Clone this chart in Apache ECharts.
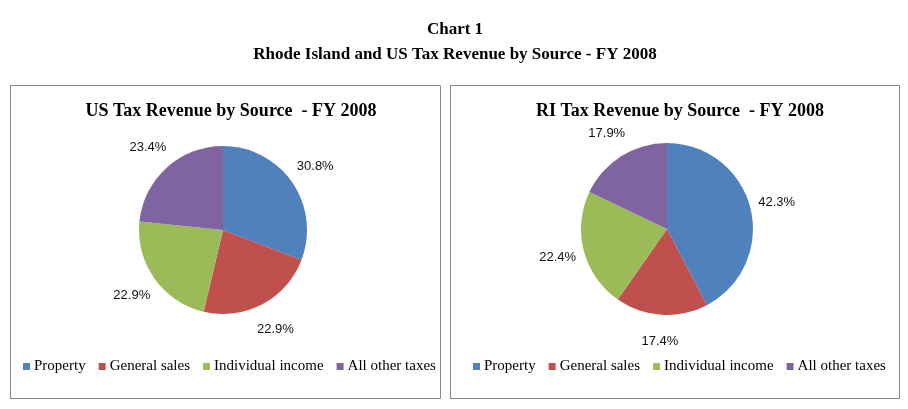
<!DOCTYPE html>
<html>
<head>
<meta charset="utf-8">
<script src="https://cdn.jsdelivr.net/npm/echarts@6/dist/echarts.min.js"></script>
<style>
html,body{margin:0;padding:0;background:#fff;}
#chart{width:908px;height:409px;}
</style>
</head>
<body>
<div id="chart"></div>
<script>
const categories = ['Property', 'General sales', 'Individual income', 'All other taxes'];
const usValues = [30.8, 22.9, 22.9, 23.4];
const riValues = [42.3, 17.4, 22.4, 17.9];
const colors = ['#4F81BD', '#C0504D', '#9BBB59', '#8064A2'];
const mainTitle = 'Chart 1';
const mainSubtitle = 'Rhode Island and US Tax Revenue by Source - FY 2008';
const usTitle = 'US Tax Revenue by Source  - FY 2008';
const riTitle = 'RI Tax Revenue by Source  - FY 2008';

const serif = '"Liberation Serif", "Times New Roman", serif';
const sans = '"Liberation Sans", Arial, sans-serif';

function toData(vals) {
  return categories.map((c, i) => ({ name: c, value: vals[i], itemStyle: { color: colors[i] } }));
}

function pieSeries(vals, center, r) {
  return {
    type: 'pie',
    center: center,
    radius: r,
    startAngle: 90,
    clockwise: true,
    silent: true,
    animation: false,
    label: { show: false },
    labelLine: { show: false },
    itemStyle: { borderWidth: 0 },
    emphasis: { disabled: true },
    data: toData(vals)
  };
}

function labelSeries(vals, center, r) {
  return {
    type: 'pie',
    center: center,
    radius: r,
    startAngle: 90,
    clockwise: true,
    silent: true,
    animation: false,
    avoidLabelOverlap: false,
    itemStyle: { color: 'rgba(0,0,0,0)', borderWidth: 0 },
    emphasis: { disabled: true },
    labelLine: { show: false },
    label: {
      show: true,
      position: 'inside',
      formatter: p => p.value.toFixed(1) + '%',
      color: '#111',
      fontFamily: sans,
      fontSize: 13,
      textBorderWidth: 0
    },
    data: categories.map((c, i) => ({ name: c, value: vals[i] }))
  };
}

function legendAt(left) {
  return {
    left: left,
    top: 359,
    orient: 'horizontal',
    padding: 0,
    itemGap: 13,
    itemWidth: 7,
    itemHeight: 7,
    icon: 'rect',
    selectedMode: false,
    data: categories,
    textStyle: { fontFamily: serif, fontSize: 15, color: '#000', padding: [0, 0, 0, -1] }
  };
}

const chart = echarts.init(document.getElementById('chart'), null, { renderer: 'canvas' });
chart.setOption({
  backgroundColor: '#fff',
  animation: false,
  title: [
    { text: mainTitle, left: 455, top: 21, textAlign: 'center', padding: 0,
      textStyle: { fontFamily: serif, fontSize: 17, fontWeight: 'bold', color: '#000' } },
    { text: mainSubtitle, left: 455, top: 46, textAlign: 'center', padding: 0,
      textStyle: { fontFamily: serif, fontSize: 17, fontWeight: 'bold', color: '#000' } },
    { text: usTitle, left: 231, top: 102, textAlign: 'center', padding: 0,
      textStyle: { fontFamily: serif, fontSize: 18, fontWeight: 'bold', color: '#000' } },
    { text: riTitle, left: 680, top: 102, textAlign: 'center', padding: 0,
      textStyle: { fontFamily: serif, fontSize: 18, fontWeight: 'bold', color: '#000' } }
  ],
  legend: [legendAt(23), legendAt(473)],
  graphic: [
    { type: 'rect', silent: true, shape: { x: 10.5, y: 85.5, width: 430, height: 313 },
      style: { fill: 'none', stroke: '#868686', lineWidth: 1 } },
    { type: 'rect', silent: true, shape: { x: 450.5, y: 85.5, width: 449, height: 313 },
      style: { fill: 'none', stroke: '#868686', lineWidth: 1 } }
  ],
  series: [
    pieSeries(usValues, [223, 230], 84),
    pieSeries(riValues, [667, 229], 86),
    labelSeries(usValues, [223, 230], 218),
    labelSeries(riValues, [667, 229], 220)
  ]
});
</script>
</body>
</html>
